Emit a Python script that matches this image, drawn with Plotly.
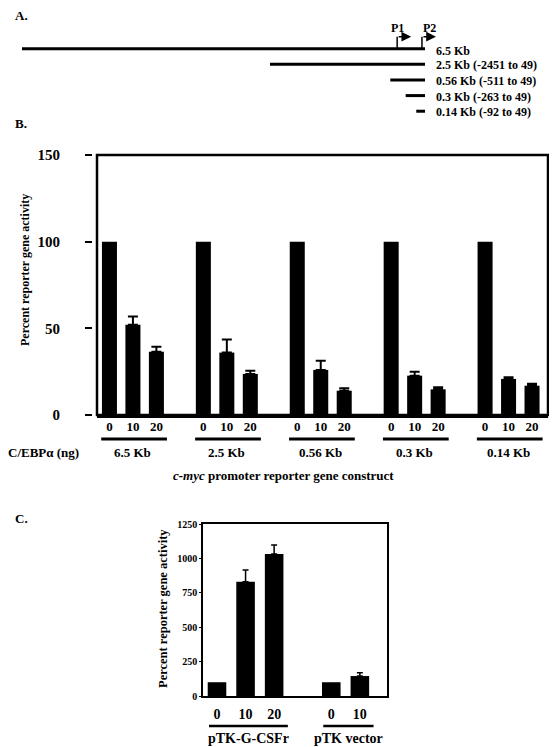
import plotly.graph_objects as go

# ---------------- Data ----------------
# Panel A: promoter constructs (bp relative to start site)
construct_names = ["6.5 Kb", "2.5 Kb (-2451 to 49)", "0.56 Kb (-511 to 49)",
                   "0.3 Kb (-263 to 49)", "0.14 Kb (-92 to 49)"]
construct_start = [-6451, -2451, -511, -263, -92]
construct_end = [49, 49, 49, 49, 49]
promoter_names = ["P1", "P2"]
promoter_pos = [-400, 0]

# Panel B
groups_b = ["6.5 Kb", "2.5 Kb", "0.56 Kb", "0.3 Kb", "0.14 Kb"]
doses_b = ["0", "10", "20"]
activity_b = [[100, 52, 36.5], [100, 36, 23.7], [100, 26, 14],
              [100, 22.7, 14.8], [100, 20.8, 16.9]]
error_b = [[0, 4.8, 2.9], [0, 7.6, 1.9], [0, 5.3, 1.4],
           [0, 2.3, 1.2], [0, 1.0, 1.1]]
yticks_b = [0, 50, 100, 150]

# Panel C
groups_c = ["pTK-G-CSFr", "pTK vector"]
doses_c = [["0", "10", "20"], ["0", "10"]]
activity_c = [[100, 831, 1032], [100, 145]]
error_c = [[0, 85, 65], [0, 24]]
yticks_c = [0, 250, 500, 750, 1000, 1250]

# ---------------- Layout helpers ----------------
# the page body has an 8 px margin, so the figure is laid out in window pixels minus 8
OFF = 8
W, H = 557 - OFF, 747 - OFF
FONT = "Liberation Serif"


def px_x(p):
    return (p - OFF) / W


def px_y(p):
    return 1 - (p - OFF) / H


def bfont(size):
    return dict(family=FONT, size=size, color="black", weight="bold")


def add_bars(x, y, e, xa, ya, width, thick, capw):
    """Bars with an upward error bar where the error is > 0, plain bars otherwise."""
    with_err = [i for i in range(len(x)) if e[i] > 0]
    no_err = [i for i in range(len(x)) if e[i] <= 0]
    fig.add_trace(go.Bar(x=[x[i] for i in no_err], y=[y[i] for i in no_err], width=width,
                         marker=dict(color="black", line=dict(width=0)),
                         xaxis=xa, yaxis=ya, hoverinfo="skip"))
    fig.add_trace(go.Bar(x=[x[i] for i in with_err], y=[y[i] for i in with_err], width=width,
                         marker=dict(color="black", line=dict(width=0)),
                         error_y=dict(type="data", array=[e[i] for i in with_err],
                                      arrayminus=[0] * len(with_err), symmetric=False,
                                      color="black", thickness=thick, width=capw),
                         xaxis=xa, yaxis=ya, hoverinfo="skip"))


fig = go.Figure()

# ---------------- Panel A ----------------
for i, (s, e) in enumerate(zip(construct_start, construct_end)):
    fig.add_trace(go.Scatter(x=[s, e], y=[i, i], mode="lines",
                             line=dict(color="black", width=3),
                             xaxis="x3", yaxis="y3", hoverinfo="skip"))

annotations = []
shapes = []
for i, name in enumerate(construct_names):
    annotations.append(dict(text=name, x=construct_end[i], y=i, xref="x3", yref="y3",
                            xanchor="left", yanchor="middle", xshift=9,
                            yshift=-2.5 if i == 0 else -1,
                            showarrow=False, font=bfont(12)))

for k, (pname, pos) in enumerate(zip(promoter_names, promoter_pos)):
    shapes.append(dict(type="line", xref="x3", yref="y3", x0=pos, x1=pos,
                       ysizemode="pixel", yanchor=0, y0=0, y1=12,
                       line=dict(color="black", width=1.5)))
    annotations.append(dict(text="", x=pos, y=0, xref="x3", yref="y3",
                            showarrow=True, ax=-14, ay=0, xshift=14, yshift=12,
                            arrowhead=2, arrowsize=1.3, arrowwidth=1.5,
                            arrowcolor="black", standoff=0))
    annotations.append(dict(text=pname, x=pos, y=0, xref="x3", yref="y3",
                            xanchor="center", yanchor="middle",
                            xshift=0 if k == 0 else 8, yshift=21,
                            showarrow=False, font=bfont(12)))

# ---------------- Panel B ----------------
xb, yb, eb, ticktext_b = [], [], [], []
for g, grp in enumerate(groups_b):
    for j, d in enumerate(doses_b):
        xb.append(g * 4 + j)
        yb.append(activity_b[g][j])
        eb.append(error_b[g][j])
        ticktext_b.append(d)
    shapes.append(dict(type="line", xref="x", yref="paper", x0=g * 4 - 0.35, x1=g * 4 + 2.45,
                       y0=px_y(439), y1=px_y(439),
                       line=dict(color="black", width=3)))
    annotations.append(dict(text=grp, x=g * 4 + 1, y=px_y(452), xref="x", yref="paper",
                            yanchor="middle", showarrow=False, font=bfont(13)))

add_bars(xb, yb, eb, "x", "y", 0.64, 2, 5)

shapes.append(dict(type="rect", xref="x domain", yref="y domain", x0=0, x1=1, y0=0, y1=1,
                   line=dict(color="black", width=2.5), layer="above"))

annotations.append(dict(text="C/EBP\u03b1 (ng)", x=px_x(6), y=px_y(452), xref="paper", yref="paper",
                        xanchor="left", yanchor="middle", showarrow=False, font=bfont(13)))
annotations.append(dict(text="<i>c-myc</i> promoter reporter gene construct", x=px_x(283), y=px_y(475),
                        xref="paper", yref="paper", xanchor="center", yanchor="middle",
                        showarrow=False, font=bfont(13)))
annotations.append(dict(text="Percent reporter gene activity", x=px_x(25), y=px_y(270),
                        xref="paper", yref="paper", textangle=-90, xanchor="center",
                        yanchor="middle", showarrow=False, font=bfont(12)))

# ---------------- Panel C ----------------
xc, yc, ec, ttc = [], [], [], []
slot = 0
for g, grp in enumerate(groups_c):
    first = slot
    for j, d in enumerate(doses_c[g]):
        xc.append(slot)
        yc.append(activity_c[g][j])
        ec.append(error_c[g][j])
        ttc.append(d)
        slot += 1
    last = slot - 1
    shapes.append(dict(type="line", xref="x2", yref="paper", x0=first - 0.28, x1=last + 0.48,
                       y0=px_y(726), y1=px_y(726),
                       line=dict(color="black", width=2.5)))
    annotations.append(dict(text=grp, x=(first + last) / 2 + 0.1, y=px_y(738), xref="x2",
                            yref="paper", yanchor="middle", showarrow=False, font=bfont(14)))
    slot += 1

add_bars(xc, yc, ec, "x2", "y2", 0.65, 1.5, 3)

annotations.append(dict(text="Percent reporter gene activity", x=px_x(163), y=px_y(609),
                        xref="paper", yref="paper", textangle=-90, xanchor="center",
                        yanchor="middle", showarrow=False, font=bfont(12.5)))

# panel letters
for letter, yy in [("A.", 16), ("B.", 124), ("C.", 519)]:
    annotations.append(dict(text=letter, x=px_x(13), y=px_y(yy), xref="paper", yref="paper",
                            xanchor="left", yanchor="middle", showarrow=False, font=bfont(13)))

pxbp = 0.062  # pixels per bp in panel A
fig.update_layout(
    template="none", barmode="overlay",
    width=W, height=H, margin=dict(l=0, r=0, t=0, b=0, autoexpand=False),
    paper_bgcolor="white", plot_bgcolor="white", showlegend=False,
    xaxis=dict(domain=[px_x(97), px_x(548)], anchor="y", range=[-0.53, 18.68],
               tickvals=xb, ticktext=ticktext_b, ticks="", ticklen=0,
               ticklabelstandoff=-3,
               showline=True, linewidth=3, linecolor="black",
               showgrid=False, zeroline=False, tickfont=bfont(13), automargin=False),
    yaxis=dict(domain=[px_y(415), px_y(155)], anchor="free", position=px_x(92),
               range=[0, 150], tickvals=yticks_b, ticks="outside", ticklen=7, tickwidth=2,
               tickcolor="black", showline=False, showgrid=False, zeroline=False,
               tickfont=bfont(15), ticklabelstandoff=22, automargin=False),
    xaxis2=dict(domain=[px_x(203), px_x(387)], anchor="y2", range=[-0.49, 5.95],
                tickvals=xc, ticktext=ttc, ticks="", ticklen=0, ticklabelstandoff=4,
                showline=True, mirror=True, linewidth=1.5,
                linecolor="black", showgrid=False, zeroline=False, tickfont=bfont(14),
                automargin=False),
    yaxis2=dict(domain=[px_y(696), px_y(524)], anchor="x2", range=[0, 1250],
                tickvals=yticks_c, ticks="outside", ticklen=2, tickwidth=1, tickcolor="black",
                showline=True, mirror=True, linewidth=1.5, linecolor="black",
                showgrid=False, zeroline=False, tickfont=bfont(10), automargin=False),
    xaxis3=dict(domain=[0, 1], anchor="y3",
                range=[49 + (OFF - 425) / pxbp, 49 + (557 - 425) / pxbp], visible=False,
                automargin=False),
    yaxis3=dict(domain=[px_y(130), 1], anchor="x3",
                range=[(130 - 48.7) / 15.63, (OFF - 48.7) / 15.63], visible=False,
                automargin=False),
    annotations=annotations, shapes=shapes,
)

fig.write_html("out.html")
